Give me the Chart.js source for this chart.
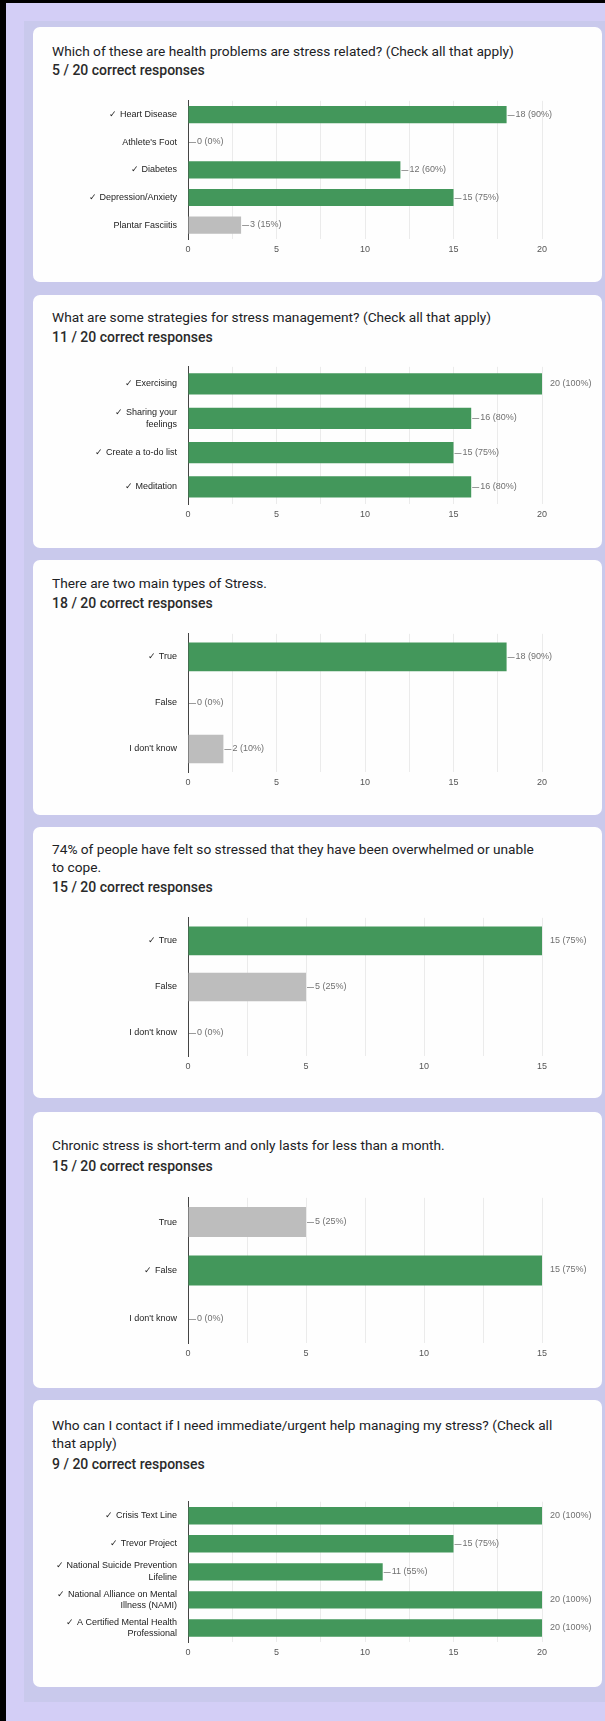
<!DOCTYPE html>
<html>
<head>
<meta charset="utf-8">
<script src="https://cdn.jsdelivr.net/npm/chart.js@4.4.1/dist/chart.umd.min.js"></script>
<style>
  html, body { margin: 0; padding: 0; }
  body {
    width: 605px; height: 1721px; position: relative; overflow: hidden;
    background: #d3cef6; font-family: Roboto, "Open Sans", sans-serif;
  }
  .edge-left { position: absolute; left: 0; top: 0; width: 6px; height: 1721px; background: #000; }
  .edge-top { position: absolute; left: 0; top: 0; width: 605px; height: 3px; background: #000; }
  .band { position: absolute; left: 24px; top: 21px; width: 581px; height: 1681px; background: #c9c9ec; }
  .card { position: absolute; left: 33px; width: 569px; background: #fefefe; border-radius: 7px; }
  .q { position: absolute; left: 52px; font-size: 13.7px; line-height: 18px; color: #202124; white-space: nowrap; }
  .score { font-size: 14px; font-weight: 500; color: #2a2a2a; }
  .plot { position: absolute; left: 36px; width: 569px; }
</style>
</head>
<body>
<div class="edge-left"></div>
<div class="edge-top"></div>
<div class="band"></div>

<div class="card" style="top:27px;height:255px"></div>
<div class="card" style="top:295px;height:253px"></div>
<div class="card" style="top:560px;height:255px"></div>
<div class="card" style="top:827px;height:271px"></div>
<div class="card" style="top:1112px;height:276px"></div>
<div class="card" style="top:1400px;height:287px"></div>

<div class="q" style="top:42px">Which of these are health problems are stress related? (Check all that apply)</div>
<div class="q score" style="top:61px">5 / 20 correct responses</div>
<div class="plot" style="top:92px;height:169px"><canvas id="q1"></canvas></div>

<div class="q" style="top:308px">What are some strategies for stress management? (Check all that apply)</div>
<div class="q score" style="top:328px">11 / 20 correct responses</div>
<div class="plot" style="top:358px;height:168px"><canvas id="q2"></canvas></div>

<div class="q" style="top:574px">There are two main types of Stress.</div>
<div class="q score" style="top:594px">18 / 20 correct responses</div>
<div class="plot" style="top:625px;height:169px"><canvas id="q3"></canvas></div>

<div class="q" style="top:841px;line-height:17.5px">74% of people have felt so stressed that they have been overwhelmed or unable<br>to cope.</div>
<div class="q score" style="top:878px">15 / 20 correct responses</div>
<div class="plot" style="top:909px;height:169px"><canvas id="q4"></canvas></div>

<div class="q" style="top:1136px">Chronic stress is short-term and only lasts for less than a month.</div>
<div class="q score" style="top:1157px">15 / 20 correct responses</div>
<div class="plot" style="top:1189px;height:176px"><canvas id="q5"></canvas></div>

<div class="q" style="top:1416px">Who can I contact if I need immediate/urgent help managing my stress? (Check all<br>that apply)</div>
<div class="q score" style="top:1455px">9 / 20 correct responses</div>
<div class="plot" style="top:1487px;height:177px"><canvas id="q6"></canvas></div>

<script>
// question 1
const q1Labels = ['✓ Heart Disease', "Athlete's Foot", '✓ Diabetes', '✓ Depression/Anxiety', 'Plantar Fasciitis'];
const q1Counts = [18, 0, 12, 15, 3];
const q1Percents = [90, 0, 60, 75, 15];
const q1Correct = [true, false, true, true, false];

// question 2
const q2Labels = ['✓ Exercising', ['✓ Sharing your', 'feelings'], '✓ Create a to-do list', '✓ Meditation'];
const q2Counts = [20, 16, 15, 16];
const q2Percents = [100, 80, 75, 80];
const q2Correct = [true, true, true, true];

// question 3
const q3Labels = ['✓ True', 'False', "I don't know"];
const q3Counts = [18, 0, 2];
const q3Percents = [90, 0, 10];
const q3Correct = [true, false, false];

// question 4
const q4Labels = ['✓ True', 'False', "I don't know"];
const q4Counts = [15, 5, 0];
const q4Percents = [75, 25, 0];
const q4Correct = [true, false, false];

// question 5
const q5Labels = ['True', '✓ False', "I don't know"];
const q5Counts = [5, 15, 0];
const q5Percents = [25, 75, 0];
const q5Correct = [false, true, false];

// question 6
const q6Labels = [
    '✓ Crisis Text Line',
    '✓ Trevor Project',
    ['✓ National Suicide Prevention', 'Lifeline'],
    ['✓ National Alliance on Mental', 'Illness (NAMI)'],
    ['✓ A Certified Mental Health', 'Professional']
];
const q6Counts = [20, 15, 11, 20, 20];
const q6Percents = [100, 75, 55, 100, 100];
const q6Correct = [true, true, true, true, true];

const GREEN = '#43975b';
const GREY = '#bdbdbd';
const FONT = '"Liberation Sans", Arial, sans-serif';

// draws the "—18 (90%)" labels at the bar ends
const valueLabels = {
    id: 'valueLabels',
    afterDatasetsDraw(chart, args, opts) {
        const ctx = chart.ctx;
        const meta = chart.getDatasetMeta(0);
        const values = chart.data.datasets[0].data;
        const xMax = chart.scales.x.max;
        ctx.save();
        ctx.font = '9px ' + FONT;
        ctx.textBaseline = 'middle';
        ctx.textAlign = 'left';
        meta.data.forEach((bar, i) => {
            const text = values[i] + ' (' + opts.percents[i] + '%)';
            const y = Math.round(bar.y);
            ctx.fillStyle = '#707070';
            if (values[i] >= xMax) {
                ctx.fillText(text, bar.x + 8, y);
            } else {
                ctx.strokeStyle = '#9a9a9a';
                ctx.lineWidth = 1;
                ctx.beginPath();
                ctx.moveTo(bar.x + 1, y + 0.5);
                ctx.lineTo(bar.x + 8, y + 0.5);
                ctx.stroke();
                ctx.fillText(text, bar.x + 9, y);
            }
        });
        ctx.restore();
    }
};

function drawQuestion(id, labels, counts, correct, percents, axisMax) {
    new Chart(document.getElementById(id), {
        type: 'bar',
        data: {
            labels: labels,
            datasets: [{
                data: counts,
                backgroundColor: correct.map(c => c ? GREEN : GREY),
                barPercentage: 0.62,
                categoryPercentage: 1
            }]
        },
        options: {
            indexAxis: 'y',
            responsive: true,
            maintainAspectRatio: false,
            animation: false,
            layout: { padding: { top: 2, right: 63, left: 0, bottom: 0 } },
            plugins: {
                legend: { display: false },
                tooltip: { enabled: false },
                valueLabels: { percents: percents }
            },
            scales: {
                x: {
                    min: 0,
                    max: axisMax,
                    afterFit: s => { s.height = 22; },
                    ticks: {
                        stepSize: 2.5,
                        autoSkip: false,
                        maxRotation: 0,
                        padding: 5,
                        color: '#555',
                        font: { size: 9, family: FONT },
                        callback: v => v % 5 === 0 ? v : ''
                    },
                    grid: { color: '#ebebeb', drawTicks: false },
                    border: { display: false }
                },
                y: {
                    afterFit: s => { s.width = 152; },
                    ticks: {
                        color: '#222',
                        padding: 3,
                        autoSkip: false,
                        font: { size: 9, family: FONT, lineHeight: 1.3 }
                    },
                    grid: { display: false },
                    border: { color: '#444', width: 1 }
                }
            }
        },
        plugins: [valueLabels]
    });
}

drawQuestion('q1', q1Labels, q1Counts, q1Correct, q1Percents, 20);
drawQuestion('q2', q2Labels, q2Counts, q2Correct, q2Percents, 20);
drawQuestion('q3', q3Labels, q3Counts, q3Correct, q3Percents, 20);
drawQuestion('q4', q4Labels, q4Counts, q4Correct, q4Percents, 15);
drawQuestion('q5', q5Labels, q5Counts, q5Correct, q5Percents, 15);
drawQuestion('q6', q6Labels, q6Counts, q6Correct, q6Percents, 20);
</script>
</body>
</html>
